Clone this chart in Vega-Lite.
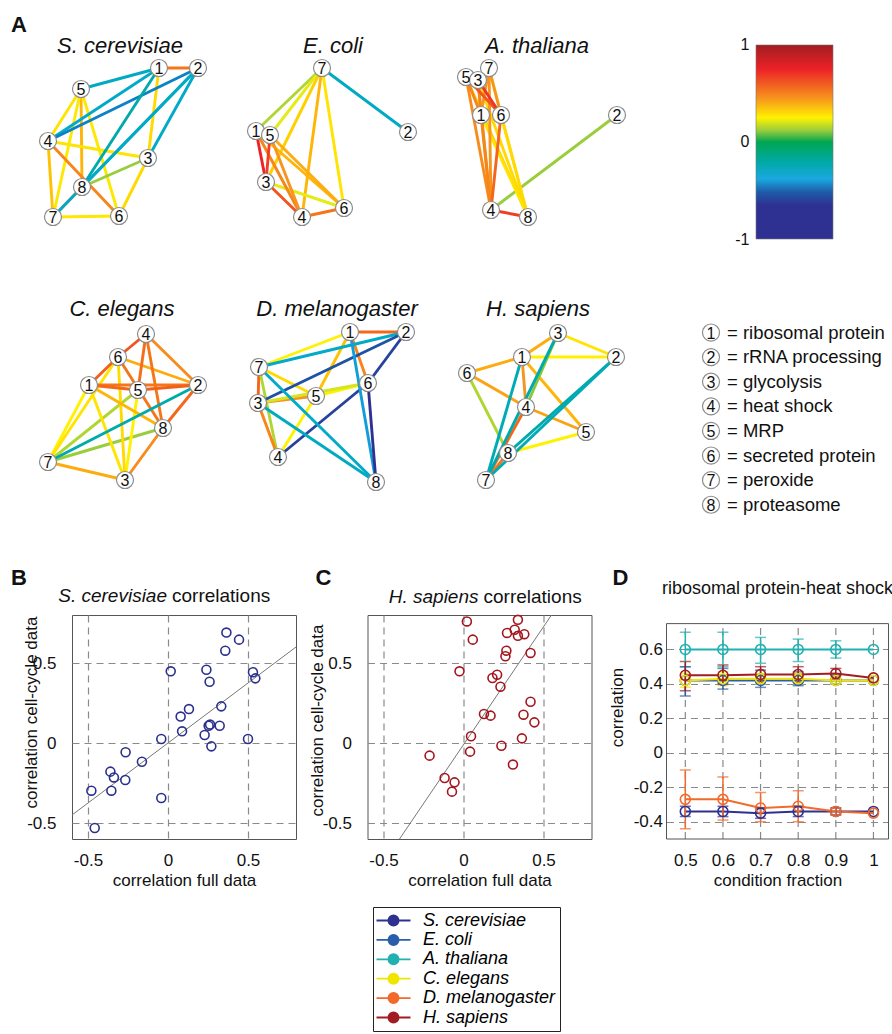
{
"$schema":"https://vega.github.io/schema/vega-lite/v6.json",
"background":"white",
"padding":{"left":10,"top":10,"right":0,"bottom":0},
"autosize":{"type":"pad"},
"config":{"view":{"stroke":null},"font":"Liberation Sans","axis":{"labelFontSize":17,"titleFontSize":17,"titleFontWeight":"normal","labelColor":"#111","titleColor":"#111","domain":false,"ticks":false,"tickSize":0,"grid":true,"gridDash":[7,5],"gridColor":"#8a8a8a","gridWidth":1.2,"labelExpr":"''+datum.value"},"text":{"color":"#111"}},
"datasets":{
"edges":[
{"sp":"Sc","a":"Sc1","b":"Sc2","r":0.55},{"sp":"Sc","a":"Sc1","b":"Sc3","r":0.3},{"sp":"Sc","a":"Sc5","b":"Sc4","r":0.28},{"sp":"Sc","a":"Sc5","b":"Sc8","r":0.38},{"sp":"Sc","a":"Sc5","b":"Sc7","r":0.27},{"sp":"Sc","a":"Sc5","b":"Sc6","r":0.27},{"sp":"Sc","a":"Sc4","b":"Sc3","r":0.28},{"sp":"Sc","a":"Sc4","b":"Sc7","r":0.35},{"sp":"Sc","a":"Sc4","b":"Sc6","r":0.5},{"sp":"Sc","a":"Sc3","b":"Sc8","r":0.12},{"sp":"Sc","a":"Sc3","b":"Sc6","r":0.3},{"sp":"Sc","a":"Sc8","b":"Sc7","r":0.5},{"sp":"Sc","a":"Sc7","b":"Sc6","r":0.27},{"sp":"Sc","a":"Sc1","b":"Sc5","r":-0.28},{"sp":"Sc","a":"Sc1","b":"Sc4","r":-0.3},{"sp":"Sc","a":"Sc2","b":"Sc4","r":-0.45},{"sp":"Sc","a":"Sc1","b":"Sc8","r":-0.22},{"sp":"Sc","a":"Sc2","b":"Sc8","r":-0.28},{"sp":"Sc","a":"Sc2","b":"Sc7","r":-0.3},{"sp":"Sc","a":"Sc2","b":"Sc3","r":-0.3},
{"sp":"Ec","a":"Ec7","b":"Ec2","r":-0.28},{"sp":"Ec","a":"Ec7","b":"Ec1","r":0.15},{"sp":"Ec","a":"Ec7","b":"Ec5","r":0.22},{"sp":"Ec","a":"Ec7","b":"Ec3","r":0.32},{"sp":"Ec","a":"Ec7","b":"Ec4","r":0.38},{"sp":"Ec","a":"Ec7","b":"Ec6","r":0.28},{"sp":"Ec","a":"Ec1","b":"Ec6","r":0.38},{"sp":"Ec","a":"Ec5","b":"Ec6","r":0.4},{"sp":"Ec","a":"Ec3","b":"Ec6","r":0.22},{"sp":"Ec","a":"Ec1","b":"Ec4","r":0.5},{"sp":"Ec","a":"Ec5","b":"Ec4","r":0.45},{"sp":"Ec","a":"Ec4","b":"Ec6","r":0.55},{"sp":"Ec","a":"Ec3","b":"Ec4","r":0.65},{"sp":"Ec","a":"Ec1","b":"Ec3","r":0.75},{"sp":"Ec","a":"Ec5","b":"Ec3","r":0.7},
{"sp":"At","a":"At2","b":"At4","r":0.12},{"sp":"At","a":"At5","b":"At8","r":0.33},{"sp":"At","a":"At3","b":"At8","r":0.3},{"sp":"At","a":"At7","b":"At8","r":0.3},{"sp":"At","a":"At1","b":"At8","r":0.28},{"sp":"At","a":"At6","b":"At8","r":0.3},{"sp":"At","a":"At5","b":"At4","r":0.48},{"sp":"At","a":"At3","b":"At4","r":0.5},{"sp":"At","a":"At7","b":"At4","r":0.45},{"sp":"At","a":"At1","b":"At4","r":0.5},{"sp":"At","a":"At6","b":"At4","r":0.6},{"sp":"At","a":"At5","b":"At1","r":0.5},{"sp":"At","a":"At3","b":"At1","r":0.5},{"sp":"At","a":"At7","b":"At1","r":0.45},{"sp":"At","a":"At7","b":"At6","r":0.45},{"sp":"At","a":"At5","b":"At6","r":0.65},{"sp":"At","a":"At3","b":"At6","r":0.72},{"sp":"At","a":"At4","b":"At8","r":0.7},
{"sp":"Ce","a":"Ce8","b":"Ce7","r":0.12},{"sp":"Ce","a":"Ce5","b":"Ce7","r":0.15},{"sp":"Ce","a":"Ce1","b":"Ce7","r":0.25},{"sp":"Ce","a":"Ce6","b":"Ce7","r":0.28},{"sp":"Ce","a":"Ce1","b":"Ce3","r":0.28},{"sp":"Ce","a":"Ce5","b":"Ce3","r":0.25},{"sp":"Ce","a":"Ce6","b":"Ce3","r":0.3},{"sp":"Ce","a":"Ce7","b":"Ce3","r":0.4},{"sp":"Ce","a":"Ce8","b":"Ce3","r":0.48},{"sp":"Ce","a":"Ce1","b":"Ce8","r":0.38},{"sp":"Ce","a":"Ce6","b":"Ce2","r":0.4},{"sp":"Ce","a":"Ce4","b":"Ce2","r":0.48},{"sp":"Ce","a":"Ce4","b":"Ce8","r":0.55},{"sp":"Ce","a":"Ce6","b":"Ce8","r":0.55},{"sp":"Ce","a":"Ce2","b":"Ce8","r":0.6},{"sp":"Ce","a":"Ce1","b":"Ce2","r":0.55},{"sp":"Ce","a":"Ce5","b":"Ce2","r":0.62},{"sp":"Ce","a":"Ce1","b":"Ce5","r":0.6},{"sp":"Ce","a":"Ce6","b":"Ce1","r":0.62},{"sp":"Ce","a":"Ce4","b":"Ce5","r":0.58},{"sp":"Ce","a":"Ce4","b":"Ce6","r":0.65},{"sp":"Ce","a":"Ce2","b":"Ce7","r":-0.22},
{"sp":"Dm","a":"Dm1","b":"Dm2","r":0.6},{"sp":"Dm","a":"Dm1","b":"Dm7","r":0.25},{"sp":"Dm","a":"Dm7","b":"Dm5","r":0.3},{"sp":"Dm","a":"Dm7","b":"Dm3","r":0.6},{"sp":"Dm","a":"Dm7","b":"Dm4","r":0.15},{"sp":"Dm","a":"Dm3","b":"Dm5","r":0.45},{"sp":"Dm","a":"Dm3","b":"Dm4","r":0.5},{"sp":"Dm","a":"Dm6","b":"Dm5","r":0.25},{"sp":"Dm","a":"Dm6","b":"Dm3","r":0.2},{"sp":"Dm","a":"Dm5","b":"Dm4","r":0.25},{"sp":"Dm","a":"Dm1","b":"Dm5","r":0.35},{"sp":"Dm","a":"Dm1","b":"Dm6","r":0.5},{"sp":"Dm","a":"Dm2","b":"Dm7","r":-0.3},{"sp":"Dm","a":"Dm2","b":"Dm3","r":-0.55},{"sp":"Dm","a":"Dm4","b":"Dm6","r":-0.6},{"sp":"Dm","a":"Dm2","b":"Dm6","r":-0.6},{"sp":"Dm","a":"Dm1","b":"Dm8","r":-0.4},{"sp":"Dm","a":"Dm6","b":"Dm8","r":-0.7},{"sp":"Dm","a":"Dm7","b":"Dm8","r":-0.3},{"sp":"Dm","a":"Dm3","b":"Dm8","r":-0.28},
{"sp":"Hs","a":"Hs3","b":"Hs1","r":0.4},{"sp":"Hs","a":"Hs3","b":"Hs2","r":0.28},{"sp":"Hs","a":"Hs1","b":"Hs2","r":0.25},{"sp":"Hs","a":"Hs1","b":"Hs6","r":0.4},{"sp":"Hs","a":"Hs1","b":"Hs4","r":0.45},{"sp":"Hs","a":"Hs1","b":"Hs5","r":0.38},{"sp":"Hs","a":"Hs6","b":"Hs4","r":0.42},{"sp":"Hs","a":"Hs6","b":"Hs8","r":0.15},{"sp":"Hs","a":"Hs4","b":"Hs5","r":0.42},{"sp":"Hs","a":"Hs8","b":"Hs5","r":0.25},{"sp":"Hs","a":"Hs4","b":"Hs7","r":0.6},{"sp":"Hs","a":"Hs8","b":"Hs7","r":0.55},{"sp":"Hs","a":"Hs3","b":"Hs4","r":0.1},{"sp":"Hs","a":"Hs1","b":"Hs7","r":-0.25},{"sp":"Hs","a":"Hs3","b":"Hs7","r":-0.22},{"sp":"Hs","a":"Hs2","b":"Hs8","r":-0.22},{"sp":"Hs","a":"Hs2","b":"Hs7","r":-0.25}
],
"nodes":[
{"id":"Sc1","sp":"Sc","n":"1","x":137,"y":23},{"id":"Sc2","sp":"Sc","n":"2","x":176,"y":23},{"id":"Sc3","sp":"Sc","n":"3","x":126,"y":113},{"id":"Sc4","sp":"Sc","n":"4","x":26,"y":96},{"id":"Sc5","sp":"Sc","n":"5","x":59,"y":44},{"id":"Sc6","sp":"Sc","n":"6","x":97,"y":171},{"id":"Sc7","sp":"Sc","n":"7","x":31,"y":172},{"id":"Sc8","sp":"Sc","n":"8","x":60,"y":142},
{"id":"Ec1","sp":"Ec","n":"1","x":26,"y":86},{"id":"Ec5","sp":"Ec","n":"5","x":40,"y":90},{"id":"Ec2","sp":"Ec","n":"2","x":178,"y":87},{"id":"Ec3","sp":"Ec","n":"3","x":36,"y":137},{"id":"Ec4","sp":"Ec","n":"4","x":72,"y":172},{"id":"Ec6","sp":"Ec","n":"6","x":114,"y":163},{"id":"Ec7","sp":"Ec","n":"7","x":92,"y":23},
{"id":"At7","sp":"At","n":"7","x":51,"y":23},{"id":"At5","sp":"At","n":"5","x":28,"y":32},{"id":"At3","sp":"At","n":"3","x":40,"y":35},{"id":"At1","sp":"At","n":"1","x":43,"y":70},{"id":"At6","sp":"At","n":"6","x":63,"y":70},{"id":"At2","sp":"At","n":"2","x":179,"y":70},{"id":"At4","sp":"At","n":"4","x":53,"y":165},{"id":"At8","sp":"At","n":"8","x":90,"y":172},
{"id":"Ce1","sp":"Ce","n":"1","x":67,"y":77},{"id":"Ce2","sp":"Ce","n":"2","x":176,"y":77},{"id":"Ce3","sp":"Ce","n":"3","x":103,"y":172},{"id":"Ce4","sp":"Ce","n":"4","x":124,"y":26},{"id":"Ce5","sp":"Ce","n":"5","x":116,"y":82},{"id":"Ce6","sp":"Ce","n":"6","x":96,"y":49},{"id":"Ce7","sp":"Ce","n":"7","x":26,"y":154},{"id":"Ce8","sp":"Ce","n":"8","x":141,"y":120},
{"id":"Dm1","sp":"Dm","n":"1","x":120,"y":24},{"id":"Dm2","sp":"Dm","n":"2","x":176,"y":24},{"id":"Dm3","sp":"Dm","n":"3","x":28,"y":95},{"id":"Dm4","sp":"Dm","n":"4","x":48,"y":149},{"id":"Dm5","sp":"Dm","n":"5","x":86,"y":88},{"id":"Dm6","sp":"Dm","n":"6","x":138,"y":75},{"id":"Dm7","sp":"Dm","n":"7","x":29,"y":59},{"id":"Dm8","sp":"Dm","n":"8","x":146,"y":174},
{"id":"Hs1","sp":"Hs","n":"1","x":84,"y":49},{"id":"Hs2","sp":"Hs","n":"2","x":178,"y":49},{"id":"Hs3","sp":"Hs","n":"3","x":120,"y":25},{"id":"Hs4","sp":"Hs","n":"4","x":88,"y":99},{"id":"Hs5","sp":"Hs","n":"5","x":148,"y":124},{"id":"Hs6","sp":"Hs","n":"6","x":29,"y":65},{"id":"Hs7","sp":"Hs","n":"7","x":48,"y":172},{"id":"Hs8","sp":"Hs","n":"8","x":70,"y":145}
]
},
"vconcat":[
{"vconcat":[
 {"hconcat":[
  {"hconcat":[
   {"width":158,"height":225,"layer":[
    {"data":{"name":"edges"},"transform":[{"filter":"datum.sp==='Sc'"},{"lookup":"a","from":{"data":{"name":"nodes"},"key":"id","fields":["x","y"]},"as":["xa","ya"]},{"lookup":"b","from":{"data":{"name":"nodes"},"key":"id","fields":["x","y"]},"as":["xb","yb"]}],
     "mark":{"type":"rule","strokeWidth":2.9},
     "encoding":{"x":{"field":"xa","type":"quantitative","scale":{"domain":[50,208],"nice":false,"zero":false},"axis":null},"y":{"field":"ya","type":"quantitative","scale":{"domain":[-35,190],"reverse":true,"nice":false,"zero":false},"axis":null},"x2":{"field":"xb"},"y2":{"field":"yb"},
      "stroke":{"field":"r","type":"quantitative","legend":null,"scale":{"domain":[-1,-0.65,-0.52,-0.38,-0.2,0,0.12,0.25,0.45,0.75,1],"range":["#2e3192","#2e3192","#1e5aa8","#1aa8e0","#00a9a4","#00a651","#9acd3c","#fff200","#f7941d","#ec2227","#a11d21"]}}}},
    {"data":{"name":"nodes"},"transform":[{"filter":"datum.sp==='Sc'"}],"mark":{"type":"point","shape":"circle","filled":true,"fill":"white","stroke":"#8c8c8c","strokeWidth":1.2,"size":290,"opacity":1},"encoding":{"x":{"field":"x","type":"quantitative"},"y":{"field":"y","type":"quantitative"}}},
    {"data":{"name":"nodes"},"transform":[{"filter":"datum.sp==='Sc'"}],"mark":{"type":"text","fontSize":16,"dy":1},"encoding":{"x":{"field":"x","type":"quantitative"},"y":{"field":"y","type":"quantitative"},"text":{"field":"n"}}},
    {"data":{"values":[{}]},"mark":{"type":"text","fontSize":22,"fontStyle":"italic","baseline":"alphabetic"},"encoding":{"x":{"datum":98},"y":{"datum":8},"text":{"value":"S. cerevisiae"}}},
    {"data":{"values":[{}]},"mark":{"type":"text","fontSize":22,"fontWeight":"bold","align":"left","baseline":"alphabetic"},"encoding":{"x":{"datum":-11},"y":{"datum":-13},"text":{"value":"A"}}}
   ]},
   {"width":208,"height":225,"layer":[
    {"data":{"name":"edges"},"transform":[{"filter":"datum.sp==='Ec'"},{"lookup":"a","from":{"data":{"name":"nodes"},"key":"id","fields":["x","y"]},"as":["xa","ya"]},{"lookup":"b","from":{"data":{"name":"nodes"},"key":"id","fields":["x","y"]},"as":["xb","yb"]}],
     "mark":{"type":"rule","strokeWidth":2.9},
     "encoding":{"x":{"field":"xa","type":"quantitative","scale":{"domain":[0,208],"nice":false,"zero":false},"axis":null},"y":{"field":"ya","type":"quantitative","scale":{"domain":[-35,190],"reverse":true,"nice":false,"zero":false},"axis":null},"x2":{"field":"xb"},"y2":{"field":"yb"},
      "stroke":{"field":"r","type":"quantitative","legend":null,"scale":{"domain":[-1,-0.65,-0.52,-0.38,-0.2,0,0.12,0.25,0.45,0.75,1],"range":["#2e3192","#2e3192","#1e5aa8","#1aa8e0","#00a9a4","#00a651","#9acd3c","#fff200","#f7941d","#ec2227","#a11d21"]}}}},
    {"data":{"name":"nodes"},"transform":[{"filter":"datum.sp==='Ec'"}],"mark":{"type":"point","shape":"circle","filled":true,"fill":"white","stroke":"#8c8c8c","strokeWidth":1.2,"size":290,"opacity":1},"encoding":{"x":{"field":"x","type":"quantitative"},"y":{"field":"y","type":"quantitative"}}},
    {"data":{"name":"nodes"},"transform":[{"filter":"datum.sp==='Ec'"}],"mark":{"type":"text","fontSize":16,"dy":1},"encoding":{"x":{"field":"x","type":"quantitative"},"y":{"field":"y","type":"quantitative"},"text":{"field":"n"}}},
    {"data":{"values":[{}]},"mark":{"type":"text","fontSize":22,"fontStyle":"italic","baseline":"alphabetic"},"encoding":{"x":{"datum":103},"y":{"datum":8},"text":{"value":"E. coli"}}}
   ]},
   {"width":208,"height":225,"layer":[
    {"data":{"name":"edges"},"transform":[{"filter":"datum.sp==='At'"},{"lookup":"a","from":{"data":{"name":"nodes"},"key":"id","fields":["x","y"]},"as":["xa","ya"]},{"lookup":"b","from":{"data":{"name":"nodes"},"key":"id","fields":["x","y"]},"as":["xb","yb"]}],
     "mark":{"type":"rule","strokeWidth":2.9},
     "encoding":{"x":{"field":"xa","type":"quantitative","scale":{"domain":[0,208],"nice":false,"zero":false},"axis":null},"y":{"field":"ya","type":"quantitative","scale":{"domain":[-35,190],"reverse":true,"nice":false,"zero":false},"axis":null},"x2":{"field":"xb"},"y2":{"field":"yb"},
      "stroke":{"field":"r","type":"quantitative","legend":null,"scale":{"domain":[-1,-0.65,-0.52,-0.38,-0.2,0,0.12,0.25,0.45,0.75,1],"range":["#2e3192","#2e3192","#1e5aa8","#1aa8e0","#00a9a4","#00a651","#9acd3c","#fff200","#f7941d","#ec2227","#a11d21"]}}}},
    {"data":{"name":"nodes"},"transform":[{"filter":"datum.sp==='At'"}],"mark":{"type":"point","shape":"circle","filled":true,"fill":"white","stroke":"#8c8c8c","strokeWidth":1.2,"size":290,"opacity":1},"encoding":{"x":{"field":"x","type":"quantitative"},"y":{"field":"y","type":"quantitative"}}},
    {"data":{"name":"nodes"},"transform":[{"filter":"datum.sp==='At'"}],"mark":{"type":"text","fontSize":16,"dy":1},"encoding":{"x":{"field":"x","type":"quantitative"},"y":{"field":"y","type":"quantitative"},"text":{"field":"n"}}},
    {"data":{"values":[{}]},"mark":{"type":"text","fontSize":22,"fontStyle":"italic","baseline":"alphabetic"},"encoding":{"x":{"datum":99},"y":{"datum":8},"text":{"value":"A. thaliana"}}}
   ]}
  ],"spacing":0,"resolve":{"scale":{"stroke":"independent"}}},
  {"width":77,"height":229,"data":{"values":[{"lo":-1,"hi":1}]},
   "mark":{"type":"rect","stroke":"#777","strokeWidth":0.6,"fill":{"gradient":"linear","x1":0,"y1":0,"x2":0,"y2":1,"stops":[{"offset":0,"color":"#a11d21"},{"offset":0.125,"color":"#ec2227"},{"offset":0.275,"color":"#f7941d"},{"offset":0.375,"color":"#fff200"},{"offset":0.44,"color":"#9acd3c"},{"offset":0.5,"color":"#00a651"},{"offset":0.6,"color":"#00a9a4"},{"offset":0.69,"color":"#1aa8e0"},{"offset":0.76,"color":"#1e5aa8"},{"offset":0.825,"color":"#2e3192"},{"offset":1,"color":"#2e3192"}]}},
   "encoding":{"y":{"field":"lo","type":"quantitative","scale":{"domain":[-1,1.3608],"nice":false,"zero":false},"axis":{"values":[-1,0,1],"title":null,"grid":false,"labelFontSize":16,"labelPadding":7}},"y2":{"field":"hi"}}}
 ],"spacing":88,"resolve":{"scale":{"stroke":"independent"}}},
 {"hconcat":[
  {"hconcat":[
   {"width":158,"height":225,"layer":[
    {"data":{"name":"edges"},"transform":[{"filter":"datum.sp==='Ce'"},{"lookup":"a","from":{"data":{"name":"nodes"},"key":"id","fields":["x","y"]},"as":["xa","ya"]},{"lookup":"b","from":{"data":{"name":"nodes"},"key":"id","fields":["x","y"]},"as":["xb","yb"]}],
     "mark":{"type":"rule","strokeWidth":2.9},
     "encoding":{"x":{"field":"xa","type":"quantitative","scale":{"domain":[50,208],"nice":false,"zero":false},"axis":null},"y":{"field":"ya","type":"quantitative","scale":{"domain":[-35,190],"reverse":true,"nice":false,"zero":false},"axis":null},"x2":{"field":"xb"},"y2":{"field":"yb"},
      "stroke":{"field":"r","type":"quantitative","legend":null,"scale":{"domain":[-1,-0.65,-0.52,-0.38,-0.2,0,0.12,0.25,0.45,0.75,1],"range":["#2e3192","#2e3192","#1e5aa8","#1aa8e0","#00a9a4","#00a651","#9acd3c","#fff200","#f7941d","#ec2227","#a11d21"]}}}},
    {"data":{"name":"nodes"},"transform":[{"filter":"datum.sp==='Ce'"}],"mark":{"type":"point","shape":"circle","filled":true,"fill":"white","stroke":"#8c8c8c","strokeWidth":1.2,"size":290,"opacity":1},"encoding":{"x":{"field":"x","type":"quantitative"},"y":{"field":"y","type":"quantitative"}}},
    {"data":{"name":"nodes"},"transform":[{"filter":"datum.sp==='Ce'"}],"mark":{"type":"text","fontSize":16,"dy":1},"encoding":{"x":{"field":"x","type":"quantitative"},"y":{"field":"y","type":"quantitative"},"text":{"field":"n"}}},
    {"data":{"values":[{}]},"mark":{"type":"text","fontSize":22,"fontStyle":"italic","baseline":"alphabetic"},"encoding":{"x":{"datum":100},"y":{"datum":8},"text":{"value":"C. elegans"}}}
   ]},
   {"width":208,"height":225,"layer":[
    {"data":{"name":"edges"},"transform":[{"filter":"datum.sp==='Dm'"},{"lookup":"a","from":{"data":{"name":"nodes"},"key":"id","fields":["x","y"]},"as":["xa","ya"]},{"lookup":"b","from":{"data":{"name":"nodes"},"key":"id","fields":["x","y"]},"as":["xb","yb"]}],
     "mark":{"type":"rule","strokeWidth":2.9},
     "encoding":{"x":{"field":"xa","type":"quantitative","scale":{"domain":[0,208],"nice":false,"zero":false},"axis":null},"y":{"field":"ya","type":"quantitative","scale":{"domain":[-35,190],"reverse":true,"nice":false,"zero":false},"axis":null},"x2":{"field":"xb"},"y2":{"field":"yb"},
      "stroke":{"field":"r","type":"quantitative","legend":null,"scale":{"domain":[-1,-0.65,-0.52,-0.38,-0.2,0,0.12,0.25,0.45,0.75,1],"range":["#2e3192","#2e3192","#1e5aa8","#1aa8e0","#00a9a4","#00a651","#9acd3c","#fff200","#f7941d","#ec2227","#a11d21"]}}}},
    {"data":{"name":"nodes"},"transform":[{"filter":"datum.sp==='Dm'"}],"mark":{"type":"point","shape":"circle","filled":true,"fill":"white","stroke":"#8c8c8c","strokeWidth":1.2,"size":290,"opacity":1},"encoding":{"x":{"field":"x","type":"quantitative"},"y":{"field":"y","type":"quantitative"}}},
    {"data":{"name":"nodes"},"transform":[{"filter":"datum.sp==='Dm'"}],"mark":{"type":"text","fontSize":16,"dy":1},"encoding":{"x":{"field":"x","type":"quantitative"},"y":{"field":"y","type":"quantitative"},"text":{"field":"n"}}},
    {"data":{"values":[{}]},"mark":{"type":"text","fontSize":22,"fontStyle":"italic","baseline":"alphabetic"},"encoding":{"x":{"datum":107},"y":{"datum":8},"text":{"value":"D. melanogaster"}}}
   ]},
   {"width":208,"height":225,"layer":[
    {"data":{"name":"edges"},"transform":[{"filter":"datum.sp==='Hs'"},{"lookup":"a","from":{"data":{"name":"nodes"},"key":"id","fields":["x","y"]},"as":["xa","ya"]},{"lookup":"b","from":{"data":{"name":"nodes"},"key":"id","fields":["x","y"]},"as":["xb","yb"]}],
     "mark":{"type":"rule","strokeWidth":2.9},
     "encoding":{"x":{"field":"xa","type":"quantitative","scale":{"domain":[0,208],"nice":false,"zero":false},"axis":null},"y":{"field":"ya","type":"quantitative","scale":{"domain":[-35,190],"reverse":true,"nice":false,"zero":false},"axis":null},"x2":{"field":"xb"},"y2":{"field":"yb"},
      "stroke":{"field":"r","type":"quantitative","legend":null,"scale":{"domain":[-1,-0.65,-0.52,-0.38,-0.2,0,0.12,0.25,0.45,0.75,1],"range":["#2e3192","#2e3192","#1e5aa8","#1aa8e0","#00a9a4","#00a651","#9acd3c","#fff200","#f7941d","#ec2227","#a11d21"]}}}},
    {"data":{"name":"nodes"},"transform":[{"filter":"datum.sp==='Hs'"}],"mark":{"type":"point","shape":"circle","filled":true,"fill":"white","stroke":"#8c8c8c","strokeWidth":1.2,"size":290,"opacity":1},"encoding":{"x":{"field":"x","type":"quantitative"},"y":{"field":"y","type":"quantitative"}}},
    {"data":{"name":"nodes"},"transform":[{"filter":"datum.sp==='Hs'"}],"mark":{"type":"text","fontSize":16,"dy":1},"encoding":{"x":{"field":"x","type":"quantitative"},"y":{"field":"y","type":"quantitative"},"text":{"field":"n"}}},
    {"data":{"values":[{}]},"mark":{"type":"text","fontSize":22,"fontStyle":"italic","baseline":"alphabetic"},"encoding":{"x":{"datum":100},"y":{"datum":8},"text":{"value":"H. sapiens"}}}
   ]}
  ],"spacing":0,"resolve":{"scale":{"stroke":"independent"}}},
  {"width":190,"height":225,
   "data":{"values":[{"k":1,"n":"1","t":"= ribosomal protein"},{"k":2,"n":"2","t":"= rRNA processing"},{"k":3,"n":"3","t":"= glycolysis"},{"k":4,"n":"4","t":"= heat shock"},{"k":5,"n":"5","t":"= MRP"},{"k":6,"n":"6","t":"= secreted protein"},{"k":7,"n":"7","t":"= peroxide"},{"k":8,"n":"8","t":"= proteasome"}]},
   "encoding":{"y":{"field":"k","type":"quantitative","scale":{"domain":[-1.42,7.726],"reverse":true,"nice":false,"zero":false},"axis":null}},
   "layer":[
    {"mark":{"type":"point","shape":"circle","filled":true,"fill":"white","stroke":"#8c8c8c","strokeWidth":1.2,"size":290,"opacity":1},"encoding":{"x":{"datum":10,"type":"quantitative","scale":{"domain":[0,190],"nice":false,"zero":false},"axis":null}}},
    {"mark":{"type":"text","fontSize":16,"dy":1},"encoding":{"x":{"datum":10},"text":{"field":"n"}}},
    {"mark":{"type":"text","fontSize":18.5,"align":"left"},"encoding":{"x":{"datum":26},"text":{"field":"t"}}}
   ]}
 ],"spacing":54,"resolve":{"scale":{"stroke":"independent"}}}
],"spacing":26,"resolve":{"scale":{"stroke":"independent"}}},
{"hconcat":[
 {"hconcat":[
 {"width":224,"height":224,"view":{"stroke":"#555"},"layer":[
  {"data":{"values":[{"x":-0.6,"y":-0.45},{"x":0.8,"y":0.6}]},"mark":{"type":"line","color":"#777","strokeWidth":1},
   "encoding":{"x":{"field":"x","type":"quantitative","scale":{"domain":[-0.6,0.8],"nice":false,"zero":false},"axis":{"title":"correlation full data","values":[-0.5,0,0.5],"labelPadding":13,"titlePadding":4}},"y":{"field":"y","type":"quantitative","scale":{"domain":[-0.6,0.8],"nice":false,"zero":false},"axis":{"title":"correlation cell-cycle data","values":[-0.5,0,0.5],"labelPadding":16,"titleX":-41,"titleY":97,"titleBaseline":"middle"}}}},
  {"data":{"values":[{"x":0.365,"y":0.69},{"x":0.444,"y":0.646},{"x":0.358,"y":0.577},{"x":0.017,"y":0.448},{"x":0.24,"y":0.458},{"x":0.26,"y":0.383},{"x":0.531,"y":0.442},{"x":0.546,"y":0.404},{"x":0.131,"y":0.212},{"x":0.079,"y":0.165},{"x":0.333,"y":0.229},{"x":0.088,"y":0.073},{"x":-0.042,"y":0.025},{"x":0.229,"y":0.05},{"x":0.254,"y":0.108},{"x":0.263,"y":0.115},{"x":0.323,"y":0.108},{"x":0.271,"y":-0.021},{"x":0.5,"y":0.025},{"x":-0.265,"y":-0.058},{"x":-0.163,"y":-0.117},{"x":-0.36,"y":-0.179},{"x":-0.338,"y":-0.215},{"x":-0.267,"y":-0.231},{"x":-0.479,"y":-0.298},{"x":-0.354,"y":-0.298},{"x":-0.042,"y":-0.344},{"x":-0.458,"y":-0.531}]},
   "mark":{"type":"point","filled":false,"size":80,"strokeWidth":1.6,"color":"#2b2f8e","opacity":1},"encoding":{"x":{"field":"x","type":"quantitative"},"y":{"field":"y","type":"quantitative"}}},
  {"data":{"values":[{}]},"mark":{"type":"text","fontSize":19,"fontStyle":"italic","align":"right","baseline":"alphabetic","dy":-13,"dx":-1},"encoding":{"x":{"datum":0},"y":{"datum":0.8},"text":{"value":"S. cerevisiae"}}},
  {"data":{"values":[{}]},"mark":{"type":"text","fontSize":19,"align":"left","baseline":"alphabetic","dy":-13,"dx":4},"encoding":{"x":{"datum":0},"y":{"datum":0.8},"text":{"value":"correlations"}}},
  {"data":{"values":[{}]},"mark":{"type":"text","fontSize":22,"fontWeight":"bold","align":"left","baseline":"alphabetic","dx":-61,"dy":-30},"encoding":{"x":{"datum":-0.6},"y":{"datum":0.8},"text":{"value":"B"}}}
 ]},
 {"width":224,"height":224,"view":{"stroke":"#555"},"layer":[
  {"data":{"values":[{"x":-0.4,"y":-0.6},{"x":0.55,"y":0.8}]},"mark":{"type":"line","color":"#777","strokeWidth":1},
   "encoding":{"x":{"field":"x","type":"quantitative","scale":{"domain":[-0.6,0.8],"nice":false,"zero":false},"axis":{"title":"correlation full data","values":[-0.5,0,0.5],"labelPadding":13,"titlePadding":4}},"y":{"field":"y","type":"quantitative","scale":{"domain":[-0.6,0.8],"nice":false,"zero":false},"axis":{"title":"correlation cell-cycle data","values":[-0.5,0,0.5],"labelPadding":16,"titleX":-50,"titleY":105,"titleBaseline":"middle"}}}},
  {"data":{"values":[{"x":0.021,"y":0.76},{"x":0.34,"y":0.77},{"x":0.058,"y":0.646},{"x":0.32,"y":0.708},{"x":0.272,"y":0.688},{"x":0.34,"y":0.67},{"x":0.38,"y":0.68},{"x":0.268,"y":0.577},{"x":0.262,"y":0.542},{"x":0.419,"y":0.563},{"x":-0.025,"y":0.448},{"x":0.21,"y":0.427},{"x":0.181,"y":0.406},{"x":0.231,"y":0.352},{"x":0.419,"y":0.258},{"x":0.128,"y":0.181},{"x":0.169,"y":0.171},{"x":0.375,"y":0.177},{"x":0.443,"y":0.129},{"x":0.047,"y":0.042},{"x":0.365,"y":0.029},{"x":0.237,"y":-0.017},{"x":0.041,"y":-0.054},{"x":-0.212,"y":-0.079},{"x":0.309,"y":-0.135},{"x":-0.118,"y":-0.219},{"x":-0.056,"y":-0.246},{"x":-0.072,"y":-0.304}]},
   "mark":{"type":"point","filled":false,"size":80,"strokeWidth":1.6,"color":"#a3161c","opacity":1},"encoding":{"x":{"field":"x","type":"quantitative"},"y":{"field":"y","type":"quantitative"}}},
  {"data":{"values":[{}]},"mark":{"type":"text","fontSize":19,"fontStyle":"italic","align":"right","baseline":"alphabetic","dy":-12,"dx":-1},"encoding":{"x":{"datum":0.1},"y":{"datum":0.8},"text":{"value":"H. sapiens"}}},
  {"data":{"values":[{}]},"mark":{"type":"text","fontSize":19,"align":"left","baseline":"alphabetic","dy":-12,"dx":4},"encoding":{"x":{"datum":0.1},"y":{"datum":0.8},"text":{"value":"correlations"}}},
  {"data":{"values":[{}]},"mark":{"type":"text","fontSize":22,"fontWeight":"bold","align":"left","baseline":"alphabetic","dx":-52,"dy":-30},"encoding":{"x":{"datum":-0.6},"y":{"datum":0.8},"text":{"value":"C"}}}
 ]}
 ],"spacing":8.5},
 {"width":222,"height":224,
  "data":{"values":[
   {"sp":"S. cerevisiae","f":0.5,"m":-0.34,"lo":-0.37,"hi":-0.31},{"sp":"S. cerevisiae","f":0.6,"m":-0.34,"lo":-0.37,"hi":-0.31},{"sp":"S. cerevisiae","f":0.7,"m":-0.35,"lo":-0.38,"hi":-0.32},{"sp":"S. cerevisiae","f":0.8,"m":-0.34,"lo":-0.37,"hi":-0.31},{"sp":"S. cerevisiae","f":0.9,"m":-0.34,"lo":-0.36,"hi":-0.32},{"sp":"S. cerevisiae","f":1,"m":-0.34},
   {"sp":"E. coli","f":0.5,"m":0.42,"lo":0.33,"hi":0.5},{"sp":"E. coli","f":0.6,"m":0.42,"lo":0.37,"hi":0.49},{"sp":"E. coli","f":0.7,"m":0.42,"lo":0.38,"hi":0.48},{"sp":"E. coli","f":0.8,"m":0.42,"lo":0.39,"hi":0.47},{"sp":"E. coli","f":0.9,"m":0.42,"lo":0.4,"hi":0.45},{"sp":"E. coli","f":1,"m":0.42},
   {"sp":"A. thaliana","f":0.5,"m":0.6,"lo":0.5,"hi":0.7},{"sp":"A. thaliana","f":0.6,"m":0.6,"lo":0.5,"hi":0.7},{"sp":"A. thaliana","f":0.7,"m":0.6,"lo":0.52,"hi":0.67},{"sp":"A. thaliana","f":0.8,"m":0.6,"lo":0.53,"hi":0.66},{"sp":"A. thaliana","f":0.9,"m":0.6,"lo":0.55,"hi":0.65},{"sp":"A. thaliana","f":1,"m":0.6},
   {"sp":"C. elegans","f":0.5,"m":0.42,"lo":0.38,"hi":0.46},{"sp":"C. elegans","f":0.6,"m":0.43,"lo":0.39,"hi":0.47},{"sp":"C. elegans","f":0.7,"m":0.43,"lo":0.4,"hi":0.46},{"sp":"C. elegans","f":0.8,"m":0.43,"lo":0.4,"hi":0.46},{"sp":"C. elegans","f":0.9,"m":0.42,"lo":0.4,"hi":0.44},{"sp":"C. elegans","f":1,"m":0.42},
   {"sp":"D. melanogaster","f":0.5,"m":-0.27,"lo":-0.44,"hi":-0.1},{"sp":"D. melanogaster","f":0.6,"m":-0.27,"lo":-0.39,"hi":-0.14},{"sp":"D. melanogaster","f":0.7,"m":-0.32,"lo":-0.4,"hi":-0.23},{"sp":"D. melanogaster","f":0.8,"m":-0.31,"lo":-0.4,"hi":-0.22},{"sp":"D. melanogaster","f":0.9,"m":-0.34,"lo":-0.36,"hi":-0.32},{"sp":"D. melanogaster","f":1,"m":-0.35},
   {"sp":"H. sapiens","f":0.5,"m":0.45,"lo":0.36,"hi":0.53},{"sp":"H. sapiens","f":0.6,"m":0.45,"lo":0.4,"hi":0.51},{"sp":"H. sapiens","f":0.7,"m":0.455,"lo":0.41,"hi":0.5},{"sp":"H. sapiens","f":0.8,"m":0.455,"lo":0.41,"hi":0.5},{"sp":"H. sapiens","f":0.9,"m":0.46,"lo":0.43,"hi":0.49},{"sp":"H. sapiens","f":1,"m":0.435}
  ]},
  "layer":[
   {"data":{"values":[{"g":0.5},{"g":0.6},{"g":0.7},{"g":0.8},{"g":0.9},{"g":1}]},"mark":{"type":"rule","strokeDash":[7,5],"color":"#8a8a8a","strokeWidth":1.2},
    "encoding":{"x":{"field":"g","type":"quantitative","scale":{"domain":[0.45,1.04],"nice":false,"zero":false},"axis":{"title":"condition fraction","values":[0.5,0.6,0.7,0.8,0.9,1],"grid":false,"labelPadding":13,"titlePadding":4}},
     "y":{"datum":-0.5,"type":"quantitative","title":"correlation","scale":{"domain":[-0.5,0.8],"nice":false,"zero":false},"axis":{"title":"correlation","values":[-0.4,-0.2,0,0.2,0.4,0.6],"labelPadding":4,"titleX":-49,"titleY":92,"titleBaseline":"middle"}},"y2":{"datum":0.75}}},
   {"data":{"values":[{}]},"mark":{"type":"rect","filled":false,"stroke":"#555","strokeWidth":1},"encoding":{"x":{"datum":0.45},"x2":{"datum":1.04},"y":{"datum":-0.5,"title":"correlation"},"y2":{"datum":0.75}}},
   {"mark":{"type":"line","strokeWidth":2},
    "encoding":{"x":{"field":"f","type":"quantitative"},"y":{"field":"m","type":"quantitative","title":"correlation"},
     "color":{"field":"sp","type":"nominal","sort":null,"scale":{"domain":["S. cerevisiae","E. coli","A. thaliana","C. elegans","D. melanogaster","H. sapiens"],"range":["#2e3192","#2a5daa","#22b0b0","#f0e500","#f26a2a","#a11d22"]},
      "legend":{"orient":"none","legendX":301,"legendY":897,"title":null,"labelFontSize":18,"labelFontStyle":"italic","symbolType":"M-2,0H2M0.6,0A0.6,0.6,0,1,1,-0.6,0A0.6,0.6,0,1,1,0.6,0","symbolSize":289,"symbolStrokeWidth":1.8,"symbolFillColor":"white","symbolOpacity":1,"symbolOffset":7,"labelOffset":20,"strokeColor":"#222","padding":4,"rowPadding":0.4,"fillColor":"white"}}}},
   {"transform":[{"filter":"isValid(datum.lo)"}],"mark":{"type":"errorbar","ticks":{"size":11},"thickness":1.5},
    "encoding":{"x":{"field":"f","type":"quantitative"},"y":{"field":"lo","type":"quantitative","title":"correlation"},"y2":{"field":"hi"},"color":{"field":"sp","type":"nominal","legend":null}}},
   {"mark":{"type":"point","filled":false,"size":100,"strokeWidth":1.6,"opacity":1},
    "encoding":{"x":{"field":"f","type":"quantitative"},"y":{"field":"m","type":"quantitative","title":"correlation"},"color":{"field":"sp","type":"nominal"}}},
   {"data":{"values":[{}]},"mark":{"type":"text","fontSize":18,"baseline":"alphabetic","dy":-21},"encoding":{"x":{"datum":0.745},"y":{"datum":0.8,"title":"correlation"},"text":{"value":"ribosomal protein-heat shock"}}},
   {"data":{"values":[{}]},"mark":{"type":"text","fontSize":22,"fontWeight":"bold","align":"left","baseline":"alphabetic","dx":-54,"dy":-30},"encoding":{"x":{"datum":0.45},"y":{"datum":0.8,"title":"correlation"},"text":{"value":"D"}}}
  ]}
],"spacing":16.5}
],"spacing":50,"resolve":{"scale":{"stroke":"independent"}}
}
